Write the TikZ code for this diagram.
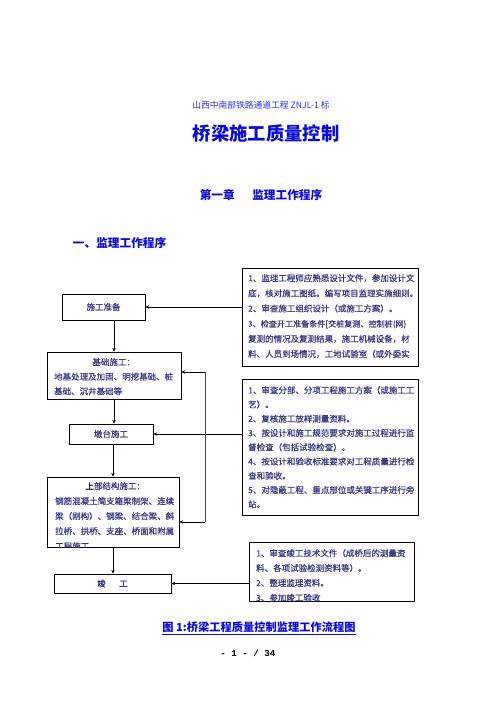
\documentclass[tikz,border=0pt]{standalone}
\usepackage{fontspec}
\setmainfont{Noto Sans CJK SC}
\newfontfamily\boxfont{Noto Sans CJK SC}[FakeBold=0.7]
\newfontfamily\pagefont{Liberation Mono}
\usetikzlibrary{arrows.meta,calc}
\definecolor{titleblue}{RGB}{10,10,215}
\definecolor{boxtext}{RGB}{58,58,128}

\begin{document}
\begin{tikzpicture}[x=1.2pt,y=-1.2pt,
  box/.style={draw=black,line width=0.9pt,inner sep=0pt},
  boxlabel/.style={font=\boxfont\fontsize{10.2}{17.5}\selectfont,text=boxtext},
  note/.style={boxlabel,inner sep=0pt,anchor=north west,align=left},
  link/.style={draw=black,line width=0.7pt},
  arrow/.style={link,-{Stealth[length=4.5pt,width=4pt]}},
  title/.style={text=titleblue,font=\bfseries\fontsize{14}{16}\selectfont},
]
\useasboundingbox (0,0) rectangle (496,702);

% headings
\node[text=titleblue!85!white,font=\fontsize{10.5}{12}\selectfont] (proj) at (261,105) {山西中南部铁路通道工程 ZNJL-1 标};
\node[title,font=\bfseries\fontsize{22}{24}\selectfont] (doc) at (266,133) {桥梁施工质量控制};
\node[title] (chap) at (261,195) {第一章\hspace{1.5em}监理工作程序};
\node[title,anchor=west] (sec) at (70,243) {一、监理工作程序};

% flow boxes
\node[box,boxlabel,minimum width=99.6pt,minimum height=31.2pt] (prep) at (103.5,307) {施工准备};
\node[box,minimum width=160.8pt,minimum height=56.4pt] (found) at (114,375.5) {};
\node[note,text width=142.8pt] (foundtxt) at (54,358)
  {\makebox[\linewidth]{基础施工：}\\地基处理及加固、明挖基础、桩\\基础、沉井基础等};
\node[box,boxlabel,minimum width=100.8pt,minimum height=24pt] (pier) at (111,434) {墩台施工};
\node[box,minimum width=158.4pt,minimum height=84pt] (super) at (113,512) {};
\begin{scope}
  \clip (super.north west) rectangle (super.south east);
  \node[note,text width=144pt,font=\boxfont\fontsize{10.2}{18}\selectfont] (supertxt) at (55,482)
    {\makebox[\linewidth]{\textcolor{black}{上}部结构施工：}\\钢筋混凝土简支箱梁制架、连续\\梁（刚构）、钢梁、结合梁、斜\\拉桥、拱桥、支座、桥面和附属\\工程施工};
\end{scope}
\node[box,boxlabel,minimum width=140.4pt,minimum height=22.8pt] (done) at (112.5,583.5) {竣\hspace{1.6em}工};

% supervision notes
\node[box,minimum width=211.2pt,minimum height=117.6pt] (note1) at (330,317) {};
\begin{scope}
  \clip (note1.north west) rectangle (note1.south east);
  \node[note,font=\boxfont\fontsize{10.2}{18.2}\selectfont] (note1txt) at (248,274)
    {1、监理工程师应熟悉设计文件，参加设计文\\底，核对施工图纸。编写项目监理实施细则。\\2、审查施工组织设计（或施工方案）。\\{\fontsize{9.7}{18.2}\selectfont 3、检查开工准备条件[交桩复测、控制桩(网)}\\复测的情况及复测结果，施工机械设备，材\\料、人员到场情况，工地试验室（或外委实};
\end{scope}
\node[box,minimum width=211.2pt,minimum height=163.2pt] (note2) at (330,447) {};
\begin{scope}
  \clip (note2.north west) rectangle (note2.south east);
  \node[note,font=\boxfont\fontsize{10.2}{17.1}\selectfont] (note2txt) at (248,386)
    {1、审查分部、分项工程施工方案（或施工工\\艺）。\\2、复核施工放样测量资料。\\3、按设计和施工规范要求对施工过程进行监\\督检查（包括试验检查）。\\4、按设计和验收标准要求对工程质量进行检\\查和验收。\\5、对隐蔽工程、重点部位或关键工序进行旁\\站。};
\end{scope}
\node[box,minimum width=198pt,minimum height=70.8pt] (note3) at (331.5,571.5) {};
\begin{scope}
  \clip (note3.north west) rectangle (note3.south east);
  \node[note,font=\boxfont\fontsize{10.2}{17.8}\selectfont] (note3txt) at (256,549)
    {1、审查竣工技术文件（成桥后的测量资\\料、各项试验检测资料等）。\\2、整理监理资料。\\3、参加竣工验收};
\end{scope}

% main flow
\draw[arrow] (found.north |- prep.south) -- (found.north);
\draw[arrow] (found.south) -- (found.south |- pier.north);
\draw[arrow] (super.north |- pier.south) -- (super.north);
\draw[arrow] (super.south) -- (super.south |- done.north);

% notes to boxes
\draw[arrow] (prep.east -| note1.west) -- (prep.east);
\draw[arrow] (pier.east -| note2.west) -- (pier.east);
\draw[arrow] (done.east -| note3.west) -- (done.east);
\coordinate (bustop) at (205,372);
\coordinate (busbot) at (205,522);
\draw[link,draw=black!70] (bustop) -- (busbot);
\draw[arrow] (bustop) -- (bustop -| found.east);
\draw[arrow] (busbot) -- (busbot -| super.east);

% caption
\node[title,font=\bfseries\fontsize{13.5}{15}\selectfont] (cap) at (259,628) {\underline{图 1:桥梁工程质量控制监理工作流程图}};
\node[font=\pagefont\bfseries\fontsize{11}{12}\selectfont] (page) at (248,653) {- 1 - / 34};
\end{tikzpicture}
\end{document}
